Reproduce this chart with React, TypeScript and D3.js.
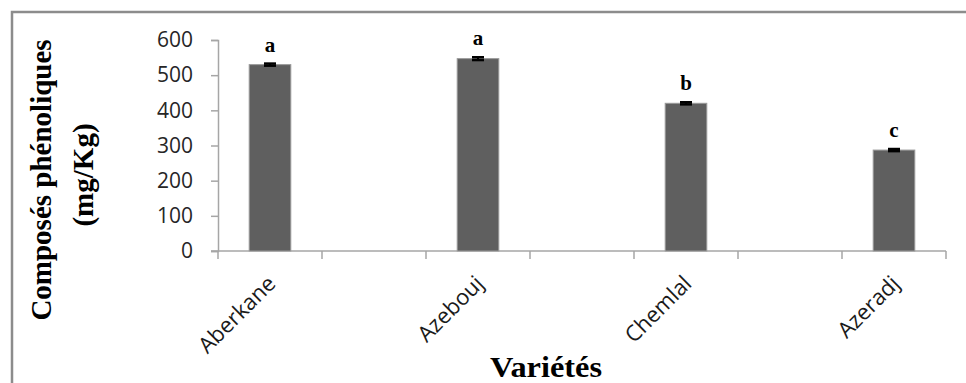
import React, { useEffect, useRef } from 'react'
import * as d3 from 'd3'

// varieties and their phenolic content (mg/Kg)
const varieties = ['Aberkane', 'Azebouj', 'Chemlal', 'Azeradj']
const phenols = [530, 547, 420, 287]
const errors = [3, 4, 3, 3]
const letters = ['a', 'a', 'b', 'c']
const yTicks = [0, 100, 200, 300, 400, 500, 600]

const W = 966
const H = 383

export default function App() {
  const ref = useRef<SVGSVGElement>(null)

  useEffect(() => {
    const svg = d3.select(ref.current)
    svg.selectAll('*').remove()

    // each variety takes every second slot, the gaps stay empty
    const slots = d3.range(varieties.length * 2 - 1)
    const slotOf = (i: number) => i * 2

    const x = d3.scaleBand<number>()
      .domain(slots)
      .range([218, 946])
      .paddingInner(0.6)
      .paddingOuter(0.3)
    const xEdges = d3.scaleBand<number>().domain(slots).range([218, 946])

    const y = d3.scaleLinear().domain([0, 600]).range([251, 40])

    // outer frame
    svg.append('path')
      .attr('d', `M12,${H + 5}V12H${W + 5}`)
      .attr('fill', 'none')
      .attr('stroke', '#8c8c8c')
      .attr('stroke-width', 2.5)

    // y axis
    const gY = svg.append('g').attr('transform', 'translate(218,0)')
    gY.call(d3.axisLeft(y).tickValues(yTicks).tickSize(7).tickPadding(18).tickFormat(d3.format('d')))
    gY.select('.domain').attr('stroke', '#a6a6a6').attr('stroke-width', 1.5)
    gY.selectAll('.tick line').attr('stroke', '#a6a6a6').attr('stroke-width', 1.5)
    gY.selectAll('.tick text')
      .attr('fill', '#262626')
      .style('font-family', '"Open Sans", sans-serif')
      .style('font-size', '21px')

    // x axis line and boundary ticks
    const gX = svg.append('g')
    gX.append('line')
      .attr('x1', 211).attr('x2', 946)
      .attr('y1', y(0)).attr('y2', y(0))
      .attr('stroke', '#a6a6a6').attr('stroke-width', 1.5)
    const edges = slots.map(s => xEdges(s) as number).concat([946])
    gX.selectAll('line.edge')
      .data(edges)
      .join('line')
      .attr('class', 'edge')
      .attr('x1', d => d).attr('x2', d => d)
      .attr('y1', y(0)).attr('y2', y(0) + 8)
      .attr('stroke', '#a6a6a6').attr('stroke-width', 1.5)

    // bars
    svg.append('g')
      .selectAll('rect')
      .data(phenols)
      .join('rect')
      .attr('x', (d, i) => x(slotOf(i)) as number)
      .attr('width', x.bandwidth())
      .attr('y', d => y(d))
      .attr('height', d => y(0) - y(d))
      .attr('fill', '#5f5f5f')
      .attr('stroke', '#9a9a9a')
      .attr('stroke-width', 1)

    // error bars
    const eb = svg.append('g')
    phenols.forEach((v, i) => {
      const cx = (x(slotOf(i)) as number) + x.bandwidth() / 2
      eb.append('line')
        .attr('x1', cx).attr('x2', cx)
        .attr('y1', y(v + errors[i])).attr('y2', y(v - errors[i]))
        .attr('stroke', '#000').attr('stroke-width', 2)
      ;[v + errors[i], v - errors[i]].forEach(e => {
        eb.append('line')
          .attr('x1', cx - 6).attr('x2', cx + 6)
          .attr('y1', y(e)).attr('y2', y(e))
          .attr('stroke', '#000').attr('stroke-width', 2.5)
      })
    })

    // significance letters
    svg.append('g')
      .selectAll('text')
      .data(letters)
      .join('text')
      .attr('x', (d, i) => (x(slotOf(i)) as number) + x.bandwidth() / 2)
      .attr('y', (d, i) => y(phenols[i] + errors[i]) - 12)
      .attr('text-anchor', 'middle')
      .style('font-family', '"Liberation Serif", serif')
      .style('font-weight', 'bold')
      .style('font-size', '21px')
      .text(d => d)

    // category labels
    svg.append('g')
      .selectAll('text')
      .data(varieties)
      .join('text')
      .attr('transform', (d, i) => {
        const cx = (x(slotOf(i)) as number) + x.bandwidth() / 2
        return `translate(${cx + 7},${y(0) + 34}) rotate(-45)`
      })
      .attr('text-anchor', 'end')
      .attr('fill', '#1a1a1a')
      .style('font-family', '"Open Sans", sans-serif')
      .style('font-size', '22px')
      .text(d => d)

    // axis titles
    const titleFont = (s: d3.Selection<SVGTextElement, unknown, null, undefined>) =>
      s.style('font-family', '"Liberation Serif", serif')
        .style('font-weight', 'bold')
        .style('font-size', '29px')
        .attr('text-anchor', 'middle')

    svg.append('text')
      .attr('transform', 'translate(51,180) rotate(-90)')
      .call(titleFont)
      .text('Composés phénoliques')
    svg.append('text')
      .attr('transform', 'translate(93,175) rotate(-90)')
      .call(titleFont)
      .text('(mg/Kg)')

    svg.append('text')
      .attr('x', 546).attr('y', 377)
      .call(titleFont)
      .attr('textLength', 112)
      .attr('lengthAdjust', 'spacingAndGlyphs')
      .text('Variétés')
  }, [])

  return (
    <svg ref={ref} width={W} height={H}
      style={{ position: 'absolute', left: 0, top: 0, background: '#fff' }} />
  )
}
